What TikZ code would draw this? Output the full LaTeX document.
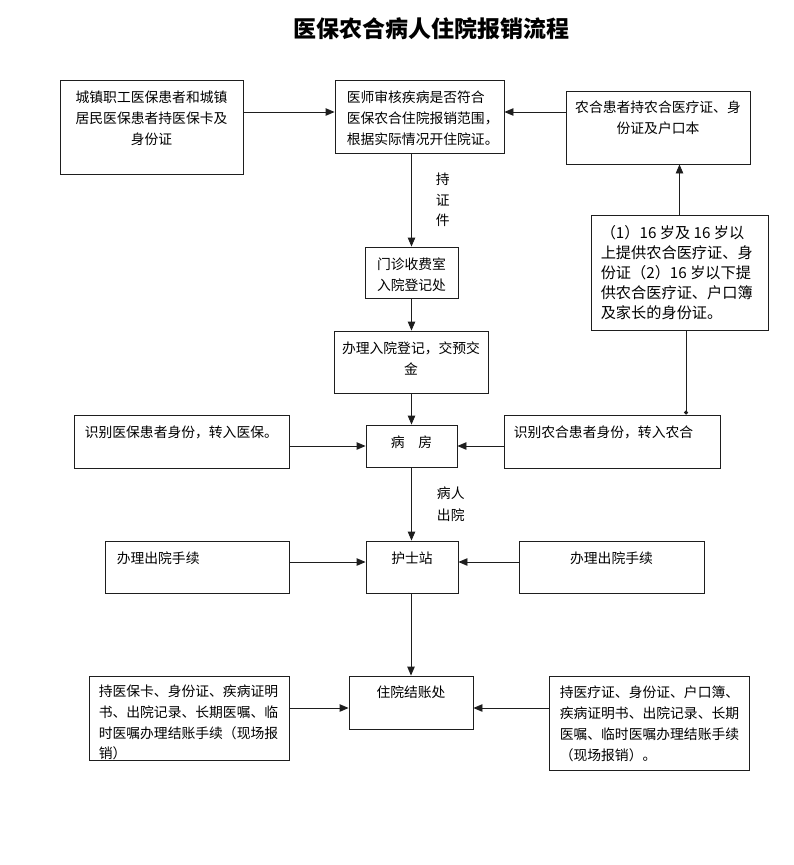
\documentclass[tikz,border=0pt]{standalone}
\usepackage{fontspec}
\setmainfont{Noto Sans CJK SC}
\usetikzlibrary{arrows.meta,positioning}
\definecolor{lineblack}{RGB}{30,30,30}

\tikzset{
  box/.style={draw=lineblack, line width=0.9pt, inner sep=0pt},
  txt/.style={inner sep=0pt, font=\fontsize{13.8}{21}\selectfont},
  arr/.style={draw=lineblack, line width=0.9pt, -{Triangle[length=9pt,width=7.5pt]}},
}

\begin{document}
\begin{tikzpicture}[x=1pt, y=-1pt]
\fill[white] (0,0) rectangle (793,865);
\useasboundingbox (0,0) rectangle (793,865);
% Title
\node[font=\fontsize{23}{28}\selectfont\bfseries] (title) at (431,29) {医保农合病人住院报销流程};
% Top row
\node[box, minimum width=183pt, minimum height=94pt] (yibao) at (151.5,127) {};
\node[txt, anchor=north, align=center] (yibao-t) at ([yshift=-11pt]yibao.north) {城镇职工医保患者和城镇\\居民医保患者持医保卡及\\身份证};
\node[box, minimum width=169pt, minimum height=73pt] (shenhe) at (419.5,116.5) {};
\node[txt, anchor=north west, align=left] (shenhe-t) at ([xshift=12pt,yshift=-11pt]shenhe.north west) {医师审核疾病是否符合\\医保农合住院报销范围，\\根据实际情况开住院证。};
\node[box, minimum width=184pt, minimum height=73pt] (nonghe) at (658,127.5) {};
\node[txt, anchor=north, align=center] (nonghe-t) at ([yshift=-10pt]nonghe.north) {农合患者持农合医疗证、身\\份证及户口本};
% Age rule for rural patients
\node[box, minimum width=177pt, minimum height=115pt] (nianling) at (679.5,272.5) {};
\node[txt, anchor=north west, align=left, font=\fontsize{15.2}{20}\selectfont] (nianling-t) at ([xshift=10pt,yshift=-11pt]nianling.north west) {（1）16 岁及 16 岁以\\上提供农合医疗证、身\\份证（2）16 岁以下提\\供农合医疗证、户口簿\\及家长的身份证。};
% Admission
\node[box, minimum width=93pt, minimum height=51pt] (menzhen) at (411.5,272.5) {};
\node[txt, anchor=north, align=center] (menzhen-t) at ([yshift=-11pt]menzhen.north) {门诊收费室\\入院登记处};
\node[box, minimum width=154pt, minimum height=62pt] (dengji) at (411,362) {};
\node[txt, anchor=north, align=center] (dengji-t) at ([yshift=-11pt]dengji.north) {办理入院登记，交预交\\金};
% Ward row
\node[box, minimum width=215pt, minimum height=53pt] (shibieYB) at (181.5,441.5) {};
\node[txt, anchor=north west] (shibieYB-t) at ([xshift=11pt,yshift=-11pt]shibieYB.north west) {识别医保患者身份，转入医保。};
\node[box, minimum width=91pt, minimum height=42pt] (bingfang) at (411.5,446) {};
\node[txt, anchor=north] (bingfang-t) at ([yshift=-11pt]bingfang.north) {病　房};
\node[box, minimum width=216pt, minimum height=53pt] (shibieNH) at (612,441.5) {};
\node[txt, anchor=north west] (shibieNH-t) at ([xshift=10pt,yshift=-11pt]shibieNH.north west) {识别农合患者身份，转入农合};
% Nurse station row
\node[box, minimum width=184pt, minimum height=52pt] (chuyuanL) at (197,567) {};
\node[txt, anchor=north west] (chuyuanL-t) at ([xshift=12pt,yshift=-11pt]chuyuanL.north west) {办理出院手续};
\node[box, minimum width=92pt, minimum height=52pt] (hushi) at (412,567) {};
\node[txt, anchor=north] (hushi-t) at ([yshift=-11pt]hushi.north) {护士站};
\node[box, minimum width=185pt, minimum height=52pt] (chuyuanR) at (611.5,567) {};
\node[txt, anchor=north] (chuyuanR-t) at ([yshift=-11pt]chuyuanR.north) {办理出院手续};
% Billing row
\node[box, minimum width=200pt, minimum height=84pt] (jiezhangL) at (189,718) {};
\node[txt, anchor=north west, align=left, font=\fontsize{13.8}{20.6}\selectfont] (jiezhangL-t) at ([xshift=10pt,yshift=-9.5pt]jiezhangL.north west) {持医保卡、身份证、疾病证明\\书、出院记录、长期医嘱、临\\时医嘱办理结账手续（现场报\\销）};
\node[box, minimum width=124pt, minimum height=53pt] (jiezhang) at (411,702.5) {};
\node[txt, anchor=north] (jiezhang-t) at ([yshift=-10pt]jiezhang.north) {住院结账处};
\node[box, minimum width=200pt, minimum height=94pt] (jiezhangR) at (649,723) {};
\node[txt, anchor=north west, align=left] (jiezhangR-t) at ([xshift=11pt,yshift=-10pt]jiezhangR.north west) {持医疗证、身份证、户口簿、\\疾病证明书、出院记录、长期\\医嘱、临时医嘱办理结账手续\\（现场报销）。};
% Horizontal arrows into the centre column
\coordinate (inShenhe) at ([yshift=4.5pt]shenhe.west);
\draw[arr] (yibao.east |- inShenhe) -- (inShenhe);
\draw[arr] (nonghe.west |- inShenhe) -- (shenhe.east |- inShenhe);
\draw[arr] (shibieYB.east |- bingfang.west) -- (bingfang.west);
\draw[arr] (shibieNH.west |- bingfang.east) -- (bingfang.east);
\coordinate (inHushi) at ([yshift=5pt]hushi.west);
\draw[arr] (chuyuanL.east |- inHushi) -- (inHushi);
\draw[arr] (chuyuanR.west |- inHushi) -- (hushi.east |- inHushi);
\coordinate (inJiezhang) at ([yshift=-5.5pt]jiezhang.west);
\draw[arr] (jiezhangL.east |- inJiezhang) -- (inJiezhang);
\draw[arr] (jiezhangR.west |- inJiezhang) -- (jiezhang.east |- inJiezhang);
% Centre column, top to bottom
\draw[arr] (shenhe.south -| menzhen.north) -- (menzhen.north)
  node[txt, midway, anchor=west, xshift=24pt, align=center, font=\fontsize{13.8}{20.5}\selectfont] (chizheng) {持\\证\\件};
\draw[arr] (menzhen.south) -- (menzhen.south |- dengji.north);
\draw[arr] (dengji.south -| bingfang.north) -- (bingfang.north);
\draw[arr] (bingfang.south) -- (bingfang.south |- hushi.north)
  node[txt, midway, anchor=west, xshift=25pt, align=center, font=\fontsize{13.8}{22}\selectfont] (chuyuan) {病人\\出院};
\draw[arr] (hushi.south -| jiezhang.north) -- (jiezhang.north);
% Right column
\draw[arr] (nianling.north) -- (nianling.north |- nonghe.south);
\coordinate (dianNH) at ([xshift=6.5pt]nianling.south);
\draw[draw=lineblack, line width=0.9pt, -{Circle[length=4pt]}] (dianNH) -- (dianNH |- shibieNH.north);
\end{tikzpicture}
\end{document}
